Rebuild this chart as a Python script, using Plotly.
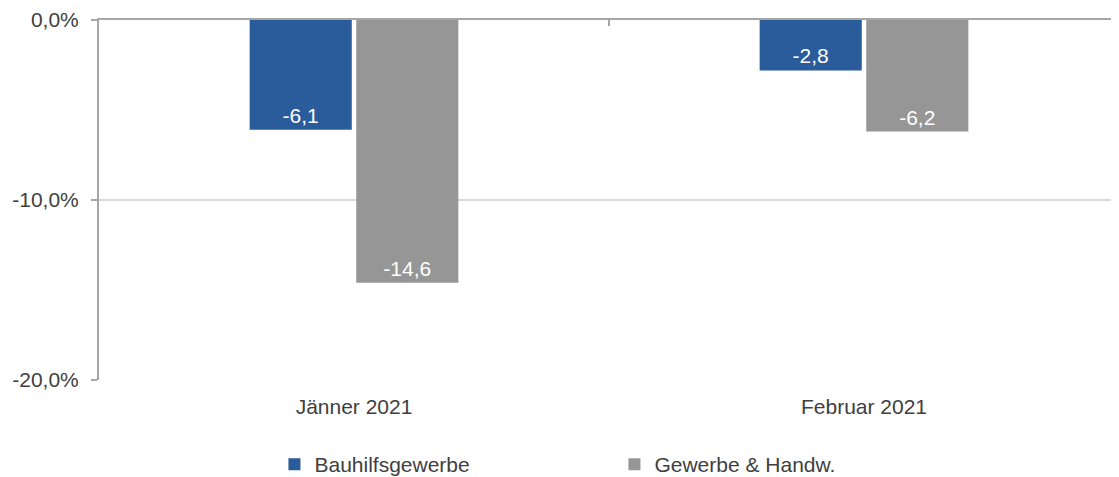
import plotly.graph_objects as go

categories = ["Jänner 2021", "Februar 2021"]
series_names = ["Bauhilfsgewerbe", "Gewerbe & Handw."]
bauhilfs = [-6.1, -2.8]
gewerbe = [-14.6, -6.2]
y_ticks = [0, -10, -20]
y_ticktext = [f"{v:.1f}".replace(".", ",") + "%" for v in y_ticks]

colors = ["#2A5B9A", "#969696"]
FONT = "Liberation Sans, Arial, sans-serif"
TXT = "#404040"
FS = 21

fig = go.Figure()
for name, vals, col in zip(series_names, [bauhilfs, gewerbe], colors):
    fig.add_trace(go.Bar(
        x=categories, y=vals, name=name, marker=dict(color=col, line=dict(width=0)),
        texttemplate="%{y:.1f}", textposition="inside", insidetextanchor="end",
        textfont=dict(color="white", size=FS, family=FONT),
        cliponaxis=False,
    ))

# invisible trace to render the top category axis (zero line with boundary ticks)
fig.add_trace(go.Scatter(x=categories, y=[0, 0], xaxis="x2", mode="markers",
                         marker=dict(opacity=0), showlegend=False, hoverinfo="skip"))

fig.update_layout(
    width=1111, height=477,
    margin=dict(l=91, r=0, t=12, b=105),
    paper_bgcolor="white", plot_bgcolor="white",
    separators=",.",
    font=dict(family=FONT, size=FS, color=TXT),
    barmode="group", bargap=0.582, bargroupgap=0.042,
    showlegend=True,
    legend=dict(orientation="h", x=0.172, xanchor="left", y=-0.236, yanchor="middle",
                font=dict(size=FS, color=TXT), entrywidth=295, itemwidth=30,
                traceorder="normal"),
    xaxis=dict(type="category", categoryarray=categories, range=[-0.5, 1.5],
               showline=False, ticks="", showgrid=False, zeroline=False,
               ticklabelstandoff=12, tickfont=dict(size=FS, color=TXT)),
    xaxis2=dict(type="category", categoryarray=categories, range=[-0.5, 1.5],
                overlaying="x", side="top", anchor="y", showline=True,
                linecolor="#A6A6A6", linewidth=2, ticks="inside", tickson="boundaries",
                ticklen=6, tickwidth=1.5, tickcolor="#A6A6A6",
                showticklabels=False, showgrid=False, zeroline=False),
    yaxis=dict(range=[-20, 0], tickvals=y_ticks, ticktext=y_ticktext,
               showline=True, linecolor="#A6A6A6", linewidth=2,
               ticks="outside", ticklen=6, tickcolor="#A6A6A6", tickwidth=1.5,
               ticklabelstandoff=8,
               showgrid=True, gridcolor="#D9D9D9", gridwidth=1.5,
               zeroline=False, tickfont=dict(size=FS, color=TXT)),
)

fig.write_html("out.html")
